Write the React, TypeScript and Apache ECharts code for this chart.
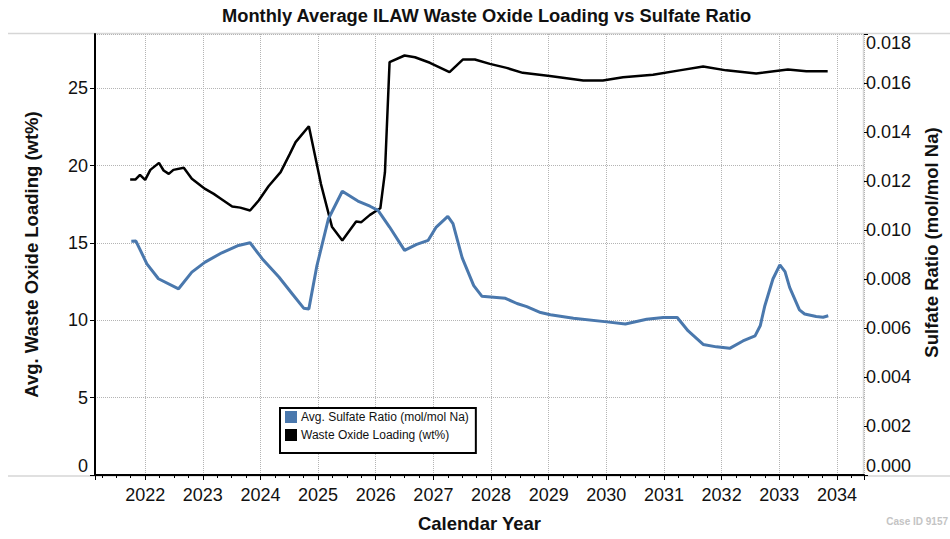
import React, { useEffect, useRef } from "react";
import * as echarts from "echarts";

const TITLE = "Monthly Average ILAW Waste Oxide Loading vs Sulfate Ratio";
const SULFATE_NAME = "Avg. Sulfate Ratio (mol/mol Na)";
const LOADING_NAME = "Waste Oxide Loading (wt%)";

const sulfateYears = [
  2021.76, 2021.84, 2022.03, 2022.23, 2022.58, 2022.81, 2023.04, 2023.33, 2023.62, 2023.82,
  2024.03, 2024.32, 2024.55, 2024.75, 2024.84, 2024.98, 2025.18, 2025.42, 2025.69, 2025.9,
  2026.04, 2026.24, 2026.5, 2026.71, 2026.91, 2027.05, 2027.25, 2027.34, 2027.5, 2027.7,
  2027.84, 2028.25, 2028.45, 2028.62, 2028.86, 2029.03, 2029.43, 2030.01, 2030.33, 2030.7,
  2030.99, 2031.23, 2031.42, 2031.68, 2031.91, 2032.14, 2032.37, 2032.58, 2032.67, 2032.75,
  2032.89, 2033.01, 2033.1, 2033.18, 2033.35, 2033.44, 2033.64, 2033.76, 2033.85,
];
const sulfateValues = [
  0.00954, 0.00955, 0.00862, 0.00801, 0.0076, 0.00828, 0.00869, 0.00907, 0.00937, 0.00948,
  0.00883, 0.00808, 0.0074, 0.00681, 0.00678, 0.00855, 0.01046, 0.01158, 0.01118, 0.01097,
  0.0108, 0.01012, 0.00917, 0.00941, 0.00958, 0.01012, 0.01056, 0.01026, 0.00886, 0.00773,
  0.0073, 0.00721, 0.007, 0.00687, 0.00663, 0.00654, 0.0064, 0.00625, 0.00616, 0.00636,
  0.00643, 0.00643, 0.00588, 0.00533, 0.00523, 0.00517, 0.00547, 0.00568, 0.00609, 0.00691,
  0.008, 0.00858, 0.0083, 0.00766, 0.00674, 0.00657, 0.00647, 0.00644, 0.0065,
];

const loadingYears = [
  2021.74, 2021.83, 2021.91, 2022.0, 2022.09, 2022.24, 2022.32, 2022.41, 2022.49, 2022.67,
  2022.81, 2023.04, 2023.19, 2023.3, 2023.51, 2023.65, 2023.82, 2023.97, 2024.14, 2024.35,
  2024.51, 2024.61, 2024.84, 2025.05, 2025.24, 2025.42, 2025.66, 2025.75, 2025.9, 2026.08,
  2026.16, 2026.24, 2026.5, 2026.68, 2026.94, 2027.28, 2027.51, 2027.72, 2027.98, 2028.27,
  2028.55, 2029.02, 2029.6, 2029.94, 2030.29, 2030.81, 2031.27, 2031.68, 2032.08, 2032.6,
  2033.15, 2033.47, 2033.84,
];
const loadingValues = [
  19.09, 19.09, 19.4, 19.07, 19.72, 20.17, 19.68, 19.46, 19.72, 19.85,
  19.14, 18.49, 18.17, 17.89, 17.35, 17.28, 17.09, 17.74, 18.66, 19.57,
  20.75, 21.51, 22.54, 18.8, 16.05, 15.15, 16.38, 16.34, 16.81, 17.24,
  19.57, 26.68, 27.11, 27.0, 26.64, 26.03, 26.85, 26.85, 26.57, 26.31,
  25.99, 25.78, 25.5, 25.5, 25.7, 25.86, 26.15, 26.4, 26.15, 25.95,
  26.2, 26.1, 26.1,
];

const yearMin = 2021.13;
const yearMax = 2034.47;
const loadingMax = 28.5;
const sulfateMax = 0.018;

const FONT = "'Liberation Sans', Arial, Helvetica, sans-serif";
const BLUE = "#4a78ad";
const GRID_COLOR = "#b4b4b4";
const FRAME_COLOR = "#d6d6d6";

export default function App() {
  const ref = useRef<HTMLDivElement>(null);

  useEffect(() => {
    if (!ref.current) return;
    const chart = echarts.init(ref.current, undefined, { renderer: "svg" });

    const sulfateData = sulfateYears.map((y, i) => [y, sulfateValues[i]]);
    const loadingData = loadingYears.map((y, i) => [y, loadingValues[i]]);

    const gridLeft = 95;
    const gridRight = 864;
    const gridTop = 34;
    const gridBottom = 475;

    chart.setOption({
      animation: false,
      backgroundColor: "#ffffff",
      textStyle: { fontFamily: FONT },
      title: {
        text: TITLE,
        left: 222,
        top: 1,
        padding: [5, 0, 5, 0],
        textStyle: { fontFamily: FONT, fontSize: 18.3, fontWeight: "bold", color: "#111" },
      },
      grid: {
        left: gridLeft,
        right: 950 - gridRight,
        top: gridTop,
        bottom: 539 - gridBottom,
        containLabel: false,
      },
      legend: {
        orient: "vertical",
        left: 280,
        top: 408,
        icon: "rect",
        itemWidth: 12,
        itemHeight: 12,
        itemGap: 6,
        borderColor: "#000",
        borderWidth: 2,
        backgroundColor: "#fff",
        padding: [3, 7, 12, 5],
        textStyle: { fontFamily: FONT, fontSize: 12, color: "#111", padding: [0, 0, 0, -1] },
        data: [SULFATE_NAME, LOADING_NAME],
      },
      xAxis: {
        type: "value",
        min: yearMin,
        max: yearMax,
        splitNumber: 13,
        name: "Calendar Year",
        nameLocation: "middle",
        nameGap: 39,
        nameTextStyle: { fontFamily: FONT, fontSize: 18.5, fontWeight: "bold", color: "#111" },
        axisLine: { show: true, lineStyle: { color: "#000", width: 2 } },
        axisTick: { show: true, length: 5, lineStyle: { color: "#000", width: 1 } },
        minorTick: { show: true, splitNumber: 4, length: 3, lineStyle: { color: "#000", width: 1 } },
        axisLabel: {
          fontFamily: FONT,
          fontSize: 18,
          color: "#111",
          margin: 11,
          showMinLabel: false,
          showMaxLabel: false,
          formatter: (v: number) => String(Math.round(v)),
        },
        splitLine: { show: true, lineStyle: { color: GRID_COLOR, type: "dotted", width: 1 } },
      },
      yAxis: [
        {
          type: "value",
          position: "left",
          min: 0,
          max: loadingMax,
          interval: 5,
          name: "Avg. Waste Oxide Loading (wt%)",
          nameLocation: "middle",
          nameGap: 54,
          nameTextStyle: { fontFamily: FONT, fontSize: 18.5, fontWeight: "bold", color: "#111" },
          axisLine: { show: true, lineStyle: { color: "#000", width: 2 } },
          axisTick: { show: true, length: 5, lineStyle: { color: "#000", width: 1 } },
          axisLabel: {
            fontFamily: FONT,
            fontSize: 18,
            color: "#111",
            margin: 7,
            showMaxLabel: false,
            verticalAlignMinLabel: "bottom",
          },
          splitLine: { show: true, lineStyle: { color: GRID_COLOR, type: "dotted", width: 1 } },
        },
        {
          type: "value",
          position: "right",
          min: 0,
          max: sulfateMax,
          interval: 0.002,
          name: "Sulfate Ratio (mol/mol Na)",
          nameLocation: "middle",
          nameGap: 57,
          nameTextStyle: {
            fontFamily: FONT,
            fontSize: 18.5,
            fontWeight: "bold",
            color: "#111",
            padding: [0, 0, 0, 24],
          },
          axisLine: { show: false },
          axisTick: { show: true, length: 4, lineStyle: { color: "#000", width: 1 } },
          axisLabel: {
            fontFamily: FONT,
            fontSize: 18,
            color: "#111",
            margin: 2,
            verticalAlignMinLabel: "bottom",
            verticalAlignMaxLabel: "top",
            formatter: (v: number) => v.toFixed(3),
          },
          splitLine: { show: false },
        },
      ],
      graphic: [
        {
          type: "line",
          silent: true,
          z: -1,
          shape: { x1: 8, y1: gridTop - 0.5, x2: 950, y2: gridTop - 0.5 },
          style: { stroke: FRAME_COLOR, lineWidth: 1.5 },
        },
        {
          type: "line",
          silent: true,
          z: -1,
          shape: { x1: 8, y1: gridBottom + 1, x2: 950, y2: gridBottom + 1 },
          style: { stroke: FRAME_COLOR, lineWidth: 1.5 },
        },
        {
          type: "line",
          silent: true,
          z: -1,
          shape: { x1: gridRight - 0.5, y1: gridTop - 0.5, x2: gridRight - 0.5, y2: gridBottom + 1 },
          style: { stroke: FRAME_COLOR, lineWidth: 1.5 },
        },
        {
          type: "text",
          right: 2,
          top: 516,
          style: {
            text: "Case ID 9157",
            fill: "#c4c4c4",
            font: `bold 10px ${FONT}`,
          },
        },
      ],
      series: [
        {
          name: LOADING_NAME,
          type: "line",
          yAxisIndex: 0,
          data: loadingData,
          showSymbol: false,
          symbol: "none",
          color: "#000",
          lineStyle: { color: "#000", width: 2.5 },
          z: 3,
        },
        {
          name: SULFATE_NAME,
          type: "line",
          yAxisIndex: 1,
          data: sulfateData,
          showSymbol: false,
          symbol: "none",
          color: BLUE,
          lineStyle: { color: BLUE, width: 3 },
          z: 4,
        },
      ],
    });

    return () => chart.dispose();
  }, []);

  return <div ref={ref} style={{ width: 950, height: 539, position: "absolute", left: 0, top: 0 }} />;
}
